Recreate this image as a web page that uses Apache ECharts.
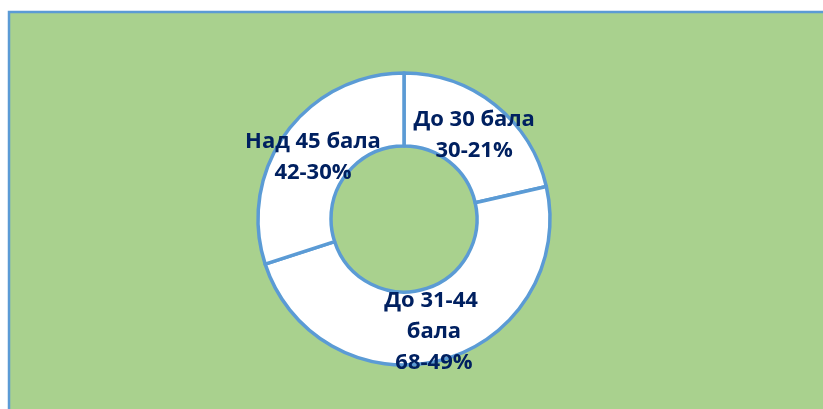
<!DOCTYPE html>
<html>
<head>
<meta charset="utf-8">
<script src="https://cdn.jsdelivr.net/npm/echarts@6/dist/echarts.min.js"></script>
<style>
html,body{margin:0;padding:0;background:#fff;}
#c{width:823px;height:409px;}
</style>
</head>
<body>
<div id="c"></div>
<script>
var categories = ['До 30 бала', 'До 31-44 бала', 'Над 45 бала'];
var values = [30, 68, 42];

var chart = echarts.init(document.getElementById('c'), null, {renderer: 'canvas'});
var data = categories.map(function (n, i) {
  var item = {name: n, value: values[i]};
  if (i === 1) { item.label = {width: 115, overflow: 'break'}; }
  return item;
});
chart.setOption({
  animation: false,
  backgroundColor: '#ffffff',
  graphic: [{
    type: 'rect', z: -10, silent: true,
    shape: {x: 9, y: 12, width: 830, height: 420},
    style: {fill: '#A9D18E', stroke: '#5B9BD5', lineWidth: 2.5}
  }],
  series: [{
    type: 'pie',
    center: [404, 219],
    radius: [73, 146],
    startAngle: 90,
    clockwise: true,
    percentPrecision: 0,
    avoidLabelOverlap: false,
    itemStyle: {color: '#ffffff', borderColor: '#5B9BD5', borderWidth: 3.5},
    label: {
      show: true,
      position: 'inside',
      formatter: '{b}\n{c}-{d}%',
      color: '#002060',
      fontFamily: 'Open Sans',
      fontWeight: 'bold',
      fontSize: 22,
      lineHeight: 31,
      align: 'center',
      offset: [0, 4]
    },
    labelLine: {show: false},
    emphasis: {disabled: true},
    data: data
  }]
});
</script>
</body>
</html>
